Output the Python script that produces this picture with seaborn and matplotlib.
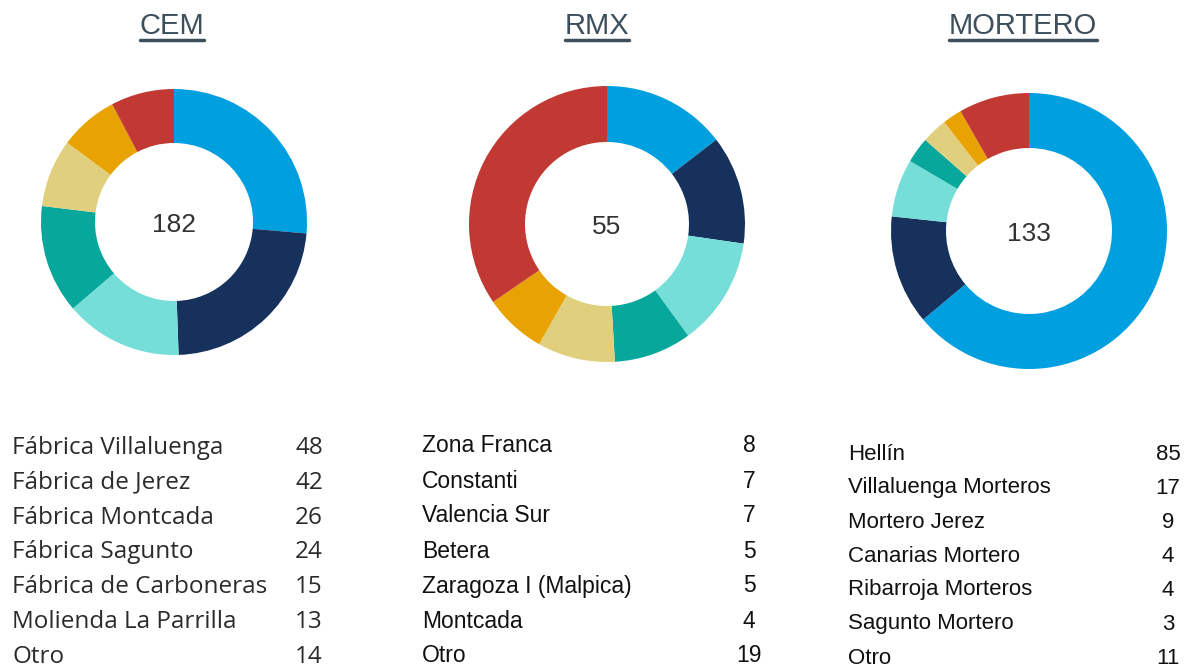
import matplotlib.pyplot as plt
import seaborn as sns
from matplotlib.lines import Line2D

# Data
cem_labels = ["Fábrica Villaluenga", "Fábrica de Jerez", "Fábrica Montcada", "Fábrica Sagunto",
              "Fábrica de Carboneras", "Molienda La Parrilla", "Otro"]
cem_values = [48, 42, 26, 24, 15, 13, 14]

rmx_labels = ["Zona Franca", "Constanti", "Valencia Sur", "Betera", "Zaragoza I (Malpica)",
              "Montcada", "Otro"]
rmx_values = [8, 7, 7, 5, 5, 4, 19]

mortero_labels = ["Hellín", "Villaluenga Morteros", "Mortero Jerez", "Canarias Mortero",
                  "Ribarroja Morteros", "Sagunto Mortero", "Otro"]
mortero_values = [85, 17, 9, 4, 4, 3, 11]

titles = ["CEM", "RMX", "MORTERO"]

colors = sns.color_palette(["#009FE0", "#16325C", "#76DED9", "#08A79B",
                            "#E0D07E", "#E8A202", "#C23934"])

sns.set_theme(style="white")
plt.rcParams['font.family'] = ['Liberation Sans', 'DejaVu Sans']

W, H = 1184, 671
fig = plt.figure(figsize=(W / 100, H / 100), dpi=100)
fig.patch.set_facecolor("white")

# layout per panel (pixel units)
panels = [
    dict(title_x=172, cx=174, cy=222, r=133, ri=79, lab_x=12, val_x=309, row0=448, step=34.8,
         font="Open Sans", fs=17.5, tcolor="#2b2b2b"),
    dict(title_x=597, cx=607, cy=224, r=138, ri=82, lab_x=422, val_x=749, row0=446, step=35.0,
         font="Liberation Sans", fs=16.5, tcolor="#111111"),
    dict(title_x=1023, cx=1029, cy=231, r=138, ri=83, lab_x=848, val_x=1168, row0=454, step=34.0,
         font="Liberation Sans", fs=16, tcolor="#111111"),
]
data = [(cem_labels, cem_values), (rmx_labels, rmx_values), (mortero_labels, mortero_values)]


def fx(px):
    return px / W


def fy(py):
    return 1 - py / H


for p, title, (labels, values) in zip(panels, titles, data):
    # donut
    ax = fig.add_axes([fx(p["cx"] - p["r"]), fy(p["cy"] + p["r"]), 2 * p["r"] / W, 2 * p["r"] / H])
    ax.pie(values, colors=colors, startangle=90, counterclock=False, radius=1,
           wedgeprops=dict(width=(p["r"] - p["ri"]) / p["r"], linewidth=0))
    ax.set_xlim(-1, 1)
    ax.set_ylim(-1, 1)
    ax.set_aspect("equal")
    ax.axis("off")
    ax.text(0, -0.02, str(sum(values)), ha="center", va="center", fontsize=19, color="#333333")

    # title with underline
    t = fig.text(fx(p["title_x"]), fy(26), title, ha="center", va="center",
                 fontsize=21, color="#3E4F5C")
    fig.canvas.draw()
    bb = t.get_window_extent()
    fig.add_artist(Line2D([bb.x0 / W, bb.x1 / W], [fy(40), fy(40)], color="#3E4F5C",
                          linewidth=2.5, transform=fig.transFigure))

    # table below
    for i, (lab, val) in enumerate(zip(labels, values)):
        y = fy(p["row0"] + i * p["step"])
        fig.text(fx(p["lab_x"]), y, lab, ha="left", va="center", fontsize=p["fs"],
                 family=[p["font"], "DejaVu Sans"], color=p["tcolor"])
        fig.text(fx(p["val_x"]), y, str(val), ha="center", va="center", fontsize=p["fs"],
                 family=[p["font"], "DejaVu Sans"], color=p["tcolor"])

plt.savefig("out.png", dpi=100)
plt.close()
